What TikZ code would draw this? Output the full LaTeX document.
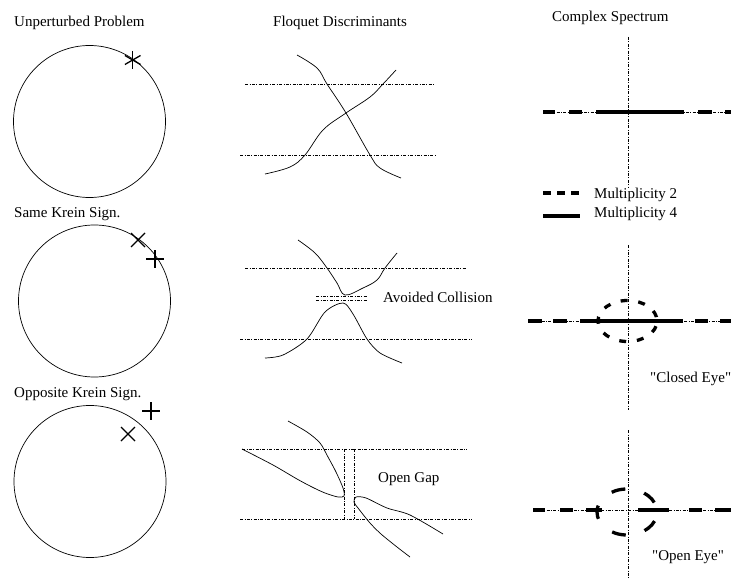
\documentclass[tikz,border=0pt]{standalone}
\usepackage{fontspec}
\setmainfont{Liberation Serif}[Ligatures=TeXOff]
\begin{document}
\begin{tikzpicture}[x=1pt,y=-1pt,
  lbl/.style={anchor=base west,inner sep=0pt,font=\fontsize{15}{18}\selectfont},
  axisline/.style={line width=0.5pt,dash pattern=on 3pt off 1.5pt on 0.8pt off 1.5pt},
  thickline/.style={line width=3.3pt},
  curveline/.style={line width=0.7pt},
  markline/.style={line width=1.3pt},
  ring/.style={line width=0.7pt}]
\useasboundingbox (0,0) rectangle (731,583);
% ---- headers
\node[lbl] (h1) at (14,27) {Unperturbed Problem};
\node[lbl] (h2) at (273,27) {Floquet Discriminants};
\node[lbl] (h3) at (552,22) {Complex Spectrum};
\node[lbl] (h4) at (14,217) {Same Krein Sign.};
\node[lbl] (h5) at (14,397) {Opposite Krein Sign.};
% ---- circles
\draw[ring] (89.5,121.5) circle (76);
\draw[ring] (94.5,301) circle (76);
\draw[ring] (90,481.5) circle (76);
% asterisk
\draw[markline] (132.7,51) -- (132.7,69);
\draw[markline] (124.9,55.5) -- (140.5,64.5);
\draw[markline] (124.9,64.5) -- (140.5,55.5);
% same sign marks
\draw[markline] (131,233) -- (145,247);
\draw[markline] (131,247) -- (145,233);
\draw[markline] (146,259) -- (164,259);
\draw[markline] (155,250) -- (155,268);
% opposite sign marks
\draw[markline] (142,411) -- (160,411);
\draw[markline] (151,402) -- (151,420);
\draw[markline] (121,427) -- (135,441);
\draw[markline] (121,441) -- (135,427);
% ---- Floquet panel 1
\draw[axisline] (245,84) -- (435,84);
\draw[axisline] (240,155) -- (435,155);
\draw[curveline] plot[smooth,tension=0.6] coordinates {(297,55) (317,68) (327,84) (346,113) (370,155) (380,168) (401,178)};
\draw[curveline] plot[smooth,tension=0.6] coordinates {(265,174) (290,167) (305,155) (323,130) (346,113) (370,97) (383,84) (396,70)};
% ---- Floquet panel 2
\draw[axisline] (245,268) -- (467,268);
\draw[axisline] (240,339) -- (472,339);
\draw[axisline] (316,296.5) -- (368,296.5);
\draw[axisline] (316,300.5) -- (368,300.5);
\draw[curveline] plot[smooth,tension=0.6] coordinates {(298,240) (315,253) (327,268) (337,283) (345,295) (363,288) (377,280) (385,268) (397,253)};
\draw[curveline] plot[smooth,tension=0.5] coordinates {(265,358) (283,355) (307,339) (325,312) (343,303) (353,314) (367,339) (380,353) (402,363)};
\node[lbl] (t1) at (383,302) {Avoided Collision};
% ---- Floquet panel 3
\draw[axisline] (242,449) -- (467,449);
\draw[axisline] (240,519) -- (472,519);
\draw[axisline] (344,449) -- (344,519);
\draw[axisline] (354,449) -- (354,519);
\draw[curveline] plot[smooth,tension=0.5] coordinates {(242,449) (273,465) (297,479) (312,487) (325,493) (338,497) (344,496) (343,488) (336,472) (328,457) (320,443) (307,432) (288,421)};
\draw[curveline] plot[smooth,tension=0.5] coordinates {(443,534) (410,515) (387,508) (366,498) (356,497) (354,502) (358,508) (370,523) (381,534) (397,547) (410,557)};
\node[lbl] (t2) at (378,482) {Open Gap};
% ---- Spectrum panel 1
\draw[axisline] (628,37) -- (628,187);
\draw[axisline] (543,112) -- (731,112);
\draw[thickline] (543,112) -- (555,112);
\draw[thickline] (569,112) -- (582,112);
\draw[thickline] (596,112) -- (684,112);
\draw[thickline] (698,112) -- (712,112);
\draw[thickline] (725,112) -- (731,112);
% legend
\draw[thickline,dash pattern=on 8pt off 6pt] (543,193) -- (580,193);
\draw[thickline] (543,216) -- (580,216);
\node[lbl] (l1) at (594,198) {Multiplicity 2};
\node[lbl] (l2) at (594,217) {Multiplicity 4};
% ---- Spectrum panel 2
\draw[axisline] (628,245) -- (628,410);
\draw[axisline] (528,321) -- (731,321);
\draw[thickline] (528,321) -- (542,321);
\draw[thickline] (553,321) -- (567,321);
\draw[thickline] (580,321) -- (683,321);
\draw[thickline] (695,321) -- (708,321);
\draw[thickline] (720,321) -- (731,321);
\draw[thickline,dash pattern=on 7pt off 10.73pt,dash phase=12.37pt] (627.5,321) ellipse [x radius=29.5,y radius=20.5];
\node[lbl] (t3) at (650,382) {"Closed Eye"};
% ---- Spectrum panel 3
\draw[axisline] (628,430) -- (628,578);
\draw[axisline] (533,510) -- (731,510);
\draw[thickline] (533,510) -- (545,510);
\draw[thickline] (560,510) -- (573,510);
\draw[thickline] (586,510) -- (602,510);
\draw[thickline] (638,510) -- (669,510);
\draw[thickline] (689,510) -- (702,510);
\draw[thickline] (715,510) -- (731,510);
\draw[thickline,dash pattern=on 14pt off 19.5pt,dash phase=7pt] (597,512) arc[start angle=180,end angle=-180,x radius=30,y radius=23];
\node[lbl] (t4) at (652,560) {"Open Eye"};
\end{tikzpicture}
\end{document}
